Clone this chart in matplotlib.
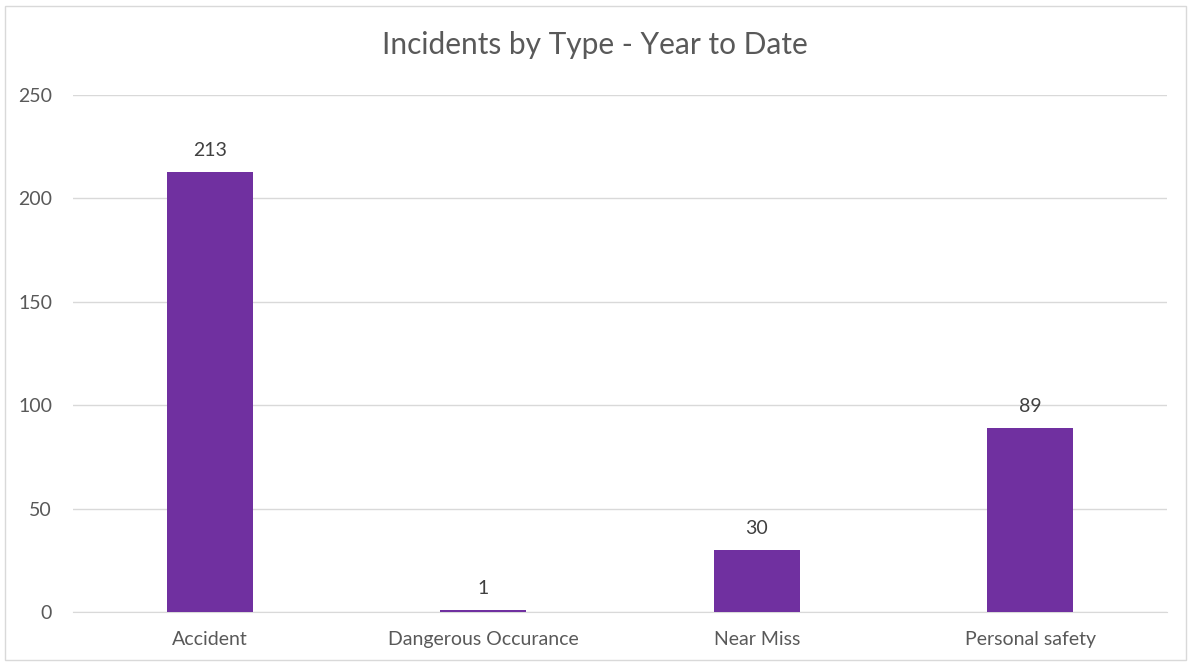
import matplotlib.pyplot as plt
from matplotlib.patches import Rectangle

categories = ['Accident', 'Dangerous Occurance', 'Near Miss', 'Personal safety']
counts = [213, 1, 30, 89]
yticks = [0, 50, 100, 150, 200, 250]

plt.rcParams['font.family'] = ['Lato', 'DejaVu Sans']

fig = plt.figure(figsize=(11.9, 6.64), dpi=100)
ax = fig.add_axes([73 / 1190, 1 - 612 / 664, 1094 / 1190, 517 / 664])

x = range(len(categories))
bars = ax.bar(x, counts, width=0.315, color='#7030A0', zorder=3)

for b, v in zip(bars, counts):
    ax.annotate(str(v), (b.get_x() + b.get_width() / 2, v), xytext=(0, 9),
                textcoords='offset points', ha='center', va='bottom',
                fontsize=14, color='#404040')

ax.set_xlim(-0.5, len(categories) - 0.5)
ax.set_ylim(0, 250)
ax.set_yticks(yticks)
ax.set_xticks(list(x))
ax.set_xticklabels(categories)
ax.grid(axis='y', color='#d9d9d9', linewidth=1, zorder=0)
for s in ['top', 'right', 'left']:
    ax.spines[s].set_visible(False)
ax.spines['bottom'].set_color('#d9d9d9')
ax.tick_params(axis='both', length=0, labelsize=14, labelcolor='#595959')
ax.tick_params(axis='y', pad=15)
ax.tick_params(axis='x', pad=14)

fig.text(0.5, 1 - 45 / 664, 'Incidents by Type - Year to Date', ha='center', va='center',
         fontsize=21.5, color='#595959')

fig.patches.append(Rectangle((5 / 1190, 4 / 664), 1181 / 1190, 654 / 664, transform=fig.transFigure,
                             fill=False, edgecolor='#d9d9d9', linewidth=1))

fig.savefig('out.png', dpi=100)
